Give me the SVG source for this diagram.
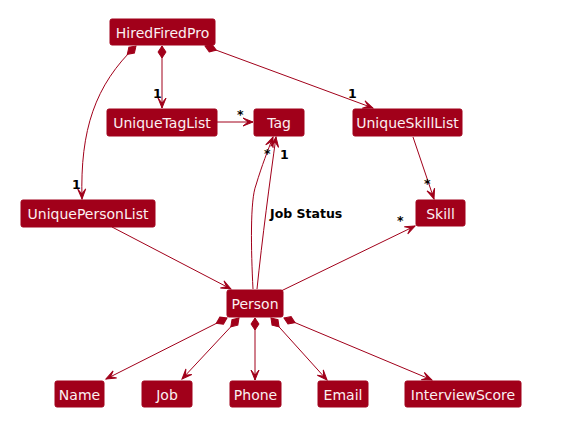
<svg xmlns="http://www.w3.org/2000/svg" width="585" height="434" viewBox="0 0 585 434">
<defs>
<style>
.box{fill:#A1001A;stroke:#A1001A;stroke-width:1}
.lbl{font-family:"DejaVu Sans",sans-serif;font-size:14px;fill:#FBEFF1;text-anchor:middle}
.e{fill:none;stroke:#A1001A;stroke-width:1}
.m{font-family:"DejaVu Sans",sans-serif;font-size:12.5px;font-weight:bold;fill:#000}
</style>
<marker id="arr" markerUnits="userSpaceOnUse" markerWidth="12" markerHeight="12" refX="0" refY="0" orient="auto" overflow="visible">
<path d="M0,0 L-10,-4 L-5,0 L-10,4 Z" fill="#A1001A" stroke="#A1001A" stroke-width="1" stroke-linejoin="miter"/>
</marker>
<marker id="dia" markerUnits="userSpaceOnUse" markerWidth="14" markerHeight="10" refX="0" refY="0" orient="auto" overflow="visible">
<path d="M0,0 L6,-4 L12,0 L6,4 Z" fill="#A1001A" stroke="#A1001A" stroke-width="1"/>
</marker>
</defs>
<rect width="585" height="434" fill="#FFFFFF"/>
<g id="connectors">
<path class="e" d="M162,46 L162,108" marker-start="url(#dia)" marker-end="url(#arr)"/>
<path class="e" d="M205,46 L373,108" marker-start="url(#dia)" marker-end="url(#arr)"/>
<path class="e" d="M136,46 C95,85 80,130 82,199" marker-start="url(#dia)" marker-end="url(#arr)"/>
<path class="e" d="M217,122 L253,122" marker-end="url(#arr)"/>
<path class="e" d="M413,137 L434,199" marker-end="url(#arr)"/>
<path class="e" d="M112,227 L231,289" marker-end="url(#arr)"/>
<path class="e" d="M253,289 C251,250 250,200 256,185 C262,165 268,150 273,137" marker-end="url(#arr)"/>
<path class="e" d="M257,289 C262,240 270,180 276,137" marker-end="url(#arr)"/>
<path class="e" d="M281,291 L415,226" marker-end="url(#arr)"/>
<path class="e" d="M227,318 L106,379" marker-start="url(#dia)" marker-end="url(#arr)"/>
<path class="e" d="M239,318 L182,379" marker-start="url(#dia)" marker-end="url(#arr)"/>
<path class="e" d="M255,318 L255,380" marker-start="url(#dia)" marker-end="url(#arr)"/>
<path class="e" d="M271,318 L327,380" marker-start="url(#dia)" marker-end="url(#arr)"/>
<path class="e" d="M284,318 L432,380" marker-start="url(#dia)" marker-end="url(#arr)"/>
<text class="m" x="153" y="98">1</text>
<text class="m" x="348" y="98">1</text>
<text class="m" x="72" y="189">1</text>
<text class="m" x="237" y="119">*</text>
<text class="m" x="424" y="188">*</text>
<text class="m" x="264" y="158">*</text>
<text class="m" x="280" y="159">1</text>
<text class="m" x="397" y="225">*</text>
<text class="m" x="270" y="218">Job Status</text>
</g>
<g id="HiredFiredPro"><rect class="box" x="110" y="19" width="105" height="26" rx="2"/><text class="lbl" x="162.5" y="37.5">HiredFiredPro</text></g>
<g id="UniqueTagList"><rect class="box" x="107" y="109" width="110" height="27" rx="2"/><text class="lbl" x="162" y="127.5">UniqueTagList</text></g>
<g id="Tag"><rect class="box" x="254" y="109" width="50" height="27" rx="2"/><text class="lbl" x="279" y="127.5">Tag</text></g>
<g id="UniqueSkillList"><rect class="box" x="353" y="109" width="109" height="27" rx="2"/><text class="lbl" x="407.5" y="127.5">UniqueSkillList</text></g>
<g id="UniquePersonList"><rect class="box" x="21" y="200" width="134" height="27" rx="2"/><text class="lbl" x="88" y="218.5">UniquePersonList</text></g>
<g id="Skill"><rect class="box" x="416" y="200" width="49" height="26" rx="2"/><text class="lbl" x="440.5" y="218.5">Skill</text></g>
<g id="Person"><rect class="box" x="227" y="290" width="56" height="27" rx="2"/><text class="lbl" x="255" y="308.5">Person</text></g>
<g id="Name"><rect class="box" x="55" y="381" width="49" height="26" rx="2"/><text class="lbl" x="79.5" y="399.5">Name</text></g>
<g id="Job"><rect class="box" x="142" y="381" width="50" height="26" rx="2"/><text class="lbl" x="167" y="399.5">Job</text></g>
<g id="Phone"><rect class="box" x="230" y="381" width="51" height="26" rx="2"/><text class="lbl" x="255.5" y="399.5">Phone</text></g>
<g id="Email"><rect class="box" x="318" y="381" width="50" height="26" rx="2"/><text class="lbl" x="343" y="399.5">Email</text></g>
<g id="InterviewScore"><rect class="box" x="405" y="381" width="116" height="26" rx="2"/><text class="lbl" x="463" y="399.5">InterviewScore</text></g>
</svg>
